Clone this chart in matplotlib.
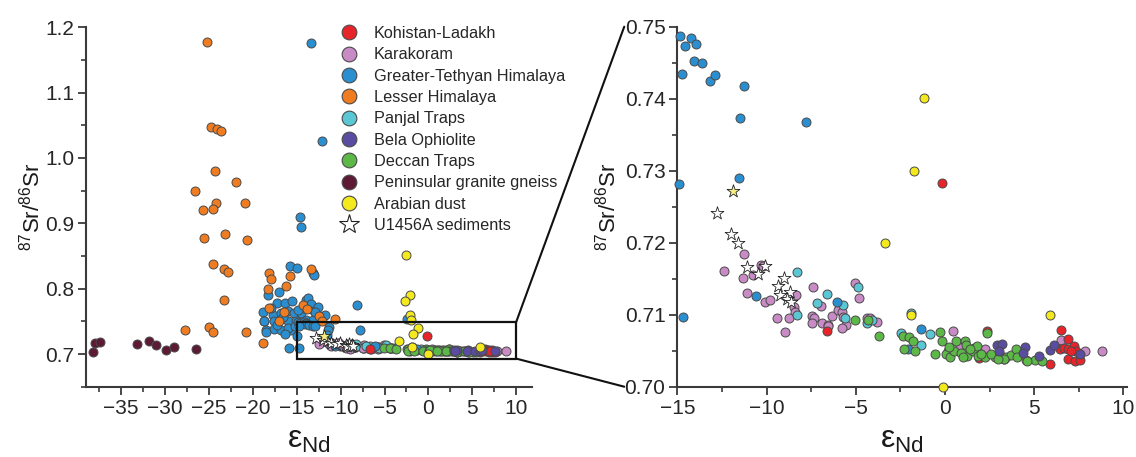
import numpy as np
import matplotlib
matplotlib.use("Agg")
import matplotlib.pyplot as plt
from matplotlib.patches import Rectangle, ConnectionPatch
from matplotlib.lines import Line2D
from matplotlib.ticker import MultipleLocator, FormatStrFormatter

plt.rcParams['font.family'] = ['Liberation Sans', 'DejaVu Sans']
plt.rcParams['mathtext.fontset'] = 'custom'
plt.rcParams['mathtext.rm'] = 'Liberation Sans'
plt.rcParams['mathtext.it'] = 'Liberation Sans:italic'
plt.rcParams['mathtext.bf'] = 'Liberation Sans:bold'

# ---------------- data: eps_Nd and 87Sr/86Sr per source ----------------
kohistan_eps = [-0.16, -6.6, 2.36, 5.9, 6.48, 6.89, 6.43, 6.65, 6.89, 7.21, 7.36, 6.89, 7.26, 7.54, 7.05, 1.9, 3.3]
kohistan_sr = [0.7283, 0.7078, 0.7077, 0.7032, 0.7079, 0.7066, 0.7052, 0.7054, 0.7053, 0.7056, 0.7049, 0.7038,
               0.7036, 0.7037, 0.7050, 0.7040, 0.7038]

karakoram_eps = [-12.41, -11.26, -11.33, -10.77, -10.33, -10.18, -11.11, -10.08, -9.8, -8.35, -8.46, -8.4, -9.39,
                 -8.72, -8.96, -7.38, -6.97, -7.47, -7.34, -6.91, -7.47, -6.54, -6.35, -5.98, -5.79, -5.7, -5.55,
                 -5.79, -5.05, -4.8, -4.36, -4.21, -3.83, 0.46, 0.83, 2.23, 6.48, 7.83, 8.81, -6.55, 1.6]
karakoram_sr = [0.7161, 0.7185, 0.7151, 0.7155, 0.7169, 0.7168, 0.7130, 0.7118, 0.7120, 0.7127, 0.7111, 0.7104,
                0.7096, 0.7096, 0.7076, 0.7138, 0.7112, 0.7098, 0.7095, 0.7089, 0.7088, 0.7086, 0.7098, 0.7107,
                0.7104, 0.7097, 0.7086, 0.7081, 0.7144, 0.7123, 0.7096, 0.7096, 0.7090, 0.7078, 0.7056, 0.7052,
                0.7065, 0.7049, 0.7049, 0.7084, 0.7054]

tethyan_eps = [-13.33, -12.07, -14.62, -14.54, -15.76, -15.0, -13.1, -13.03, -17.02, -18.27, -8.08, -2.4,
               -17.2, -16.37, -15.49, -13.97, -13.71, -13.4, -18.8, -17.74, -16.82, -15.99, -15.3, -14.47, -13.02,
               -18.72, -17.58, -15.99, -15.11, -13.97, -13.10, -18.53, -17.58, -16.82, -15.68, -18.73, -18.53,
               -15.87, -12.3, -11.8, -16.0, -17.2, -14.2, -12.6, -16.6, -14.9, -17.9, -15.2, -12.9, -16.3,
               -14.87, -14.58, -14.21, -13.98, -14.04, -13.61, -14.76, -13.14, -12.87, -11.29, -11.46, -7.78,
               -11.54, -14.91, -14.69, -10.59, -6.03, -1.32, -2.06]
tethyan_sr = [1.1765, 1.0266, 0.9095, 0.8951, 0.834, 0.8315, 0.8239, 0.8213, 0.7942, 0.7907, 0.7754, 0.754,
              0.778, 0.778, 0.7805, 0.783, 0.7856, 0.777, 0.7637, 0.7601, 0.7627, 0.7652, 0.7627, 0.7627, 0.7652,
              0.751, 0.750, 0.750, 0.750, 0.7525, 0.7515, 0.7362, 0.7382, 0.7362, 0.7372, 0.7498, 0.733,
              0.709, 0.758, 0.760, 0.740, 0.745, 0.770, 0.772, 0.756, 0.768, 0.771, 0.7435, 0.7645, 0.7305,
              0.7487, 0.7473, 0.7485, 0.7476, 0.7453, 0.7449, 0.7434, 0.7425, 0.7433, 0.7418, 0.7373, 0.7367,
              0.7290, 0.7281, 0.7097, 0.7126, 0.7117, 0.7080, 0.7053]

lesser_eps = [-25.23, -24.81, -24.12, -23.59, -24.27, -21.96, -26.6, -24.24, -20.93, -25.72, -24.5, -25.57,
              -23.17, -20.7, -24.54, -23.29, -22.79, -23.25, -27.69, -25.0, -24.54, -20.74, -18.8, -18.1, -17.96,
              -18.27, -15.76, -13.4, -16.22, -18.11, -16.45, -14.24, -13.78, -17.02, -12.46, -12.11, -10.63]
lesser_sr = [1.177, 1.047, 1.0445, 1.0419, 0.9807, 0.9639, 0.9497, 0.9309, 0.9313, 0.9211, 0.9227, 0.8778,
             0.8844, 0.8748, 0.8376, 0.830, 0.8248, 0.7826, 0.7372, 0.7413, 0.733, 0.733, 0.7163, 0.8239, 0.8147,
             0.7994, 0.8197, 0.830, 0.8044, 0.7703, 0.7647, 0.7754, 0.7688, 0.7509, 0.7575, 0.7509, 0.7535]

panjal_eps = [-8.27, -8.31, -6.63, -7.15, -5.74, -5.6, -4.86, -4.36, -4.11, -1.88, -2.44, -1.32, -0.85, 0.18]
panjal_sr = [0.7160, 0.7100, 0.7129, 0.7116, 0.7113, 0.7096, 0.7138, 0.7088, 0.7093, 0.7103, 0.7075, 0.7058,
             0.7073, 0.7050]

bela_eps = [2.92, 3.22, 4.49, 4.39, 5.27, 5.87, 6.09, 7.54, 3.0]
bela_sr = [0.7058, 0.7060, 0.7055, 0.7047, 0.7043, 0.7051, 0.7058, 0.7046, 0.7050]

deccan_eps = [-5.05, -4.34, -3.68, -2.34, -2.0, -1.78, -2.31, -1.69, -0.29, -0.14, -0.57, 0.05, 0.27, 0.49, 0.6,
              1.11, 1.16, 1.24, 1.57, 1.8, 1.86, 2.36, 2.23, 2.79, 3.1, 3.44, 3.72, 4.0, 4.04, 4.56, 5.03, 5.46,
              0.9, 1.4, 2.6, 3.3, 2.0, 0.2, 1.0, 2.95, 4.6]
deccan_sr = [0.7093, 0.7093, 0.7070, 0.7070, 0.7069, 0.7064, 0.7053, 0.7049, 0.7076, 0.7064, 0.7045, 0.7046,
             0.7041, 0.7049, 0.7063, 0.7063, 0.7058, 0.7043, 0.7049, 0.7056, 0.7042, 0.7074, 0.7041, 0.7041,
             0.7044, 0.7041, 0.7044, 0.7053, 0.7041, 0.7037, 0.7037, 0.7036, 0.7047, 0.7053, 0.7046, 0.7038,
             0.7046, 0.7055, 0.7041, 0.7039, 0.7036]

peninsular_eps = [-38.18, -37.92, -37.46, -33.16, -31.84, -31.08, -29.94, -28.95, -26.48]
peninsular_sr = [0.7035, 0.7168, 0.7183, 0.7153, 0.7199, 0.7142, 0.7055, 0.7112, 0.7076]

arabian_eps = [-2.53, -2.08, -2.69, -2.08, -2.0, -1.17, -1.72, -3.37, -1.88, 5.9, -0.1]
arabian_sr = [0.8509, 0.7907, 0.7805, 0.7601, 0.7515, 0.7401, 0.7300, 0.7199, 0.7100, 0.7100, 0.7000]

u1456a_eps = [-12.77, -12.0, -11.58, -11.1, -10.5, -10.06, -9.0, -9.38, -9.22, -8.7, -8.85, -8.63]
u1456a_sr = [0.7241, 0.7212, 0.7200, 0.7166, 0.7157, 0.7167, 0.7151, 0.7140, 0.7127, 0.7132, 0.7122, 0.7118]
u1456a_dust_eps = [-11.89]
u1456a_dust_sr = [0.7272]

groups = [
    ("Kohistan-Ladakh", kohistan_eps, kohistan_sr, "#E8242B", 5),
    ("Karakoram", karakoram_eps, karakoram_sr, "#C88BC5", 2),
    ("Greater-Tethyan Himalaya", tethyan_eps, tethyan_sr, "#2A8FD1", 3),
    ("Lesser Himalaya", lesser_eps, lesser_sr, "#F07C21", 4),
    ("Panjal Traps", panjal_eps, panjal_sr, "#5BC7D5", 2.5),
    ("Bela Ophiolite", bela_eps, bela_sr, "#5A4DA1", 7),
    ("Deccan Traps", deccan_eps, deccan_sr, "#5DB947", 6),
    ("Peninsular granite gneiss", peninsular_eps, peninsular_sr, "#5C1A35", 8),
    ("Arabian dust", arabian_eps, arabian_sr, "#F3E91E", 9),
]

EDGE = "#4a4a4a"
AXC = "#3a3a3a"
W, H = 1136, 457

fig = plt.figure(figsize=(W / 100, H / 100), dpi=100)
ax1 = fig.add_axes([86 / W, 1 - 386.7 / H, (532 - 86) / W, (386.7 - 27.3) / H])
ax2 = fig.add_axes([677.3 / W, 1 - 386.7 / H, (1127 - 677.3) / W, (386.7 - 26.7) / H])

X2 = (-15, 10.2)
Y2 = (0.70, 0.75)


def draw_groups(ax, limits=None):
    for name, ex, sr, col, z in groups:
        ex = np.asarray(ex)
        sr = np.asarray(sr)
        kw = {}
        if limits is not None:
            m = (ex >= limits[0][0] - 0.1) & (ex <= limits[0][1]) & (sr >= limits[1][0] - 0.0005) & (sr <= limits[1][1] + 0.0002)
            ex, sr = ex[m], sr[m]
            kw["clip_on"] = False
        ax.scatter(ex, sr, s=42, c=col, edgecolors=EDGE, linewidths=0.7, zorder=z, **kw)
    for ex, sr, fc in ((u1456a_eps, u1456a_sr, "white"), (u1456a_dust_eps, u1456a_dust_sr, "#F4EE80")):
        ex = np.asarray(ex)
        sr = np.asarray(sr)
        kw = {}
        if limits is not None:
            kw["clip_on"] = False
        ax.scatter(ex, sr, s=95, marker="*", c=fc, edgecolors="#222222", linewidths=0.6, zorder=10, **kw)


draw_groups(ax1)
draw_groups(ax2, (X2, Y2))

for ax in (ax1, ax2):
    for side in ("top", "right"):
        ax.spines[side].set_visible(False)
    for side in ("left", "bottom"):
        ax.spines[side].set_linewidth(1.5)
        ax.spines[side].set_color(AXC)
    ax.tick_params(which="major", length=5.5, width=1.3, color=AXC, labelsize=15, labelcolor="#262626", pad=3)
    ax.tick_params(which="minor", length=3.5, width=1.2, color=AXC)
    ax.xaxis.set_minor_locator(MultipleLocator(2.5))

ax1.set_xlim(-39, 11.8)
ax1.set_ylim(0.65, 1.2)
ax1.set_xticks(np.arange(-35, 11, 5))
ax1.set_yticks(np.arange(0.7, 1.21, 0.1))
ax1.yaxis.set_minor_locator(MultipleLocator(0.05))
ax1.yaxis.set_major_formatter(FormatStrFormatter("%.1f"))

ax2.set_xlim(*X2)
ax2.set_ylim(*Y2)
ax2.set_xticks(np.arange(-15, 11, 5))
ax2.set_yticks(np.arange(0.70, 0.751, 0.01))
ax2.yaxis.set_minor_locator(MultipleLocator(0.005))
ax2.yaxis.set_major_formatter(FormatStrFormatter("%.2f"))

ylab = r"$^{87}$Sr/$^{86}$Sr"
xlab = r"$\mathrm{\varepsilon}_{\mathrm{Nd}}$"
for ax, lx in ((ax1, -0.094), (ax2, -0.127)):
    ax.set_ylabel(ylab, fontsize=16, color="#1a1a1a")
    ax.yaxis.set_label_coords(lx, 0.5)
    ax.set_xlabel(xlab, fontsize=23, color="#1a1a1a")
    ax.xaxis.set_label_coords(0.5, -0.106)

# zoom window on the overview and its connectors to the detail panel
box_x = (-15, 10)
box_y = (0.693, 0.749)
ax1.add_patch(Rectangle((box_x[0], box_y[0]), box_x[1] - box_x[0], box_y[1] - box_y[0],
                        fill=False, lw=1.6, ec="#111111", zorder=12))
for yb, ya in ((box_y[1], 1.0), (box_y[0], 0.0)):
    con = ConnectionPatch(xyA=(box_x[1], yb), coordsA=ax1.transData,
                          xyB=(-0.118, ya), coordsB=ax2.transAxes,
                          color="#111111", lw=1.5)
    fig.add_artist(con)

# legend
handles = [Line2D([], [], ls="none", marker="o", markersize=10.6, markerfacecolor=g[3],
                  markeredgecolor=EDGE, markeredgewidth=0.8) for g in groups]
labels = [g[0] for g in groups]
handles.append(Line2D([], [], ls="none", marker="*", markersize=15, markerfacecolor="white",
                      markeredgecolor="#222222", markeredgewidth=0.8))
labels.append("U1456A sediments")
ax1.legend(handles, labels, loc="upper left", bbox_to_anchor=(339 / W, 1 - 26 / H),
           bbox_transform=fig.transFigure, frameon=False, fontsize=11.7,
           handlelength=1.2, handletextpad=0.94, labelspacing=0.39, borderpad=0,
           borderaxespad=0, labelcolor="#262626")

fig.savefig("out.png", dpi=100)
